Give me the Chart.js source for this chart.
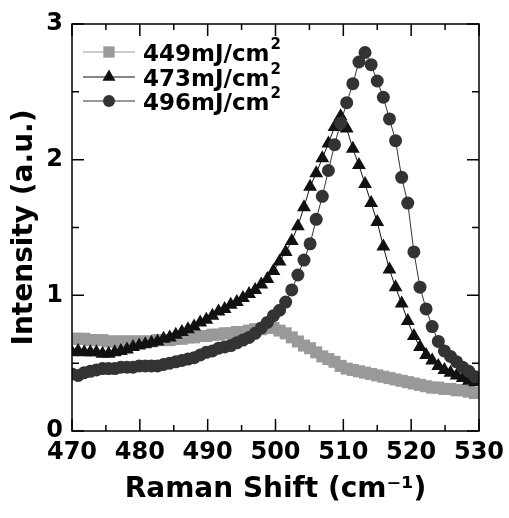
<!DOCTYPE html>
<html>
<head>
<meta charset="utf-8">
<script src="https://cdn.jsdelivr.net/npm/chart.js@4/dist/chart.umd.min.js"></script>
<style>
  body { margin: 0; background: #fff; }
  canvas { display: block; }
</style>
</head>
<body>
<canvas id="ramanChart" width="509" height="518"></canvas>
<script>
// Raman shift (cm-1), shared by the three spectra
const ramanShift = [
  470.0, 470.9, 471.8, 472.7, 473.6, 474.5, 475.4, 476.3, 477.2, 478.1,
  479.0, 479.9, 480.8, 481.7, 482.6, 483.5, 484.4, 485.3, 486.2, 487.1,
  488.0, 488.9, 489.8, 490.7, 491.6, 492.5, 493.4, 494.3, 495.2, 496.1,
  497.0, 497.9, 498.8, 499.7, 500.6, 501.5, 502.4, 503.3, 504.2, 505.1,
  506.0, 506.9, 507.8, 508.7, 509.6, 510.5, 511.4, 512.3, 513.2, 514.1,
  515.0, 515.9, 516.8, 517.7, 518.6, 519.5, 520.4, 521.3, 522.2, 523.1,
  524.0, 524.9, 525.8, 526.7, 527.6, 528.5, 529.4
];

const int449 = [
  0.68, 0.68, 0.68, 0.67, 0.67, 0.67, 0.66, 0.66, 0.66, 0.66,
  0.66, 0.66, 0.66, 0.66, 0.67, 0.67, 0.67, 0.68, 0.68, 0.69,
  0.69, 0.70, 0.70, 0.71, 0.71, 0.72, 0.72, 0.73, 0.73, 0.74,
  0.75, 0.75, 0.76, 0.76, 0.74, 0.72, 0.69, 0.66, 0.63, 0.61,
  0.58, 0.55, 0.53, 0.51, 0.48, 0.46, 0.45, 0.44, 0.43, 0.42,
  0.41, 0.40, 0.39, 0.38, 0.37, 0.36, 0.35, 0.34, 0.33, 0.32,
  0.32, 0.31, 0.31, 0.30, 0.30, 0.29, 0.28
];

const int473 = [
  0.58, 0.59, 0.58, 0.58, 0.58, 0.57, 0.57, 0.58, 0.59, 0.60,
  0.62, 0.63, 0.64, 0.65, 0.66, 0.68, 0.69, 0.71, 0.73, 0.75,
  0.77, 0.80, 0.82, 0.85, 0.88, 0.90, 0.93, 0.95, 0.98, 1.01,
  1.04, 1.08, 1.12, 1.18, 1.25, 1.32, 1.40, 1.51, 1.65, 1.80,
  1.90, 2.01, 2.12, 2.24, 2.32, 2.23, 2.08, 1.96, 1.82, 1.68,
  1.54, 1.36, 1.19, 1.06, 0.94, 0.81, 0.70, 0.62, 0.56, 0.52,
  0.48, 0.45, 0.43, 0.41, 0.39, 0.37, 0.36
];

const int496 = [
  0.42, 0.41, 0.43, 0.44, 0.45, 0.46, 0.46, 0.46, 0.47, 0.47,
  0.47, 0.48, 0.48, 0.48, 0.48, 0.49, 0.50, 0.51, 0.52, 0.53,
  0.54, 0.56, 0.58, 0.59, 0.61, 0.62, 0.63, 0.65, 0.67, 0.69,
  0.72, 0.76, 0.80, 0.85, 0.89, 0.95, 1.04, 1.15, 1.26, 1.38,
  1.56, 1.73, 1.92, 2.11, 2.27, 2.42, 2.56, 2.72, 2.79, 2.70,
  2.58, 2.46, 2.30, 2.14, 1.87, 1.68, 1.32, 1.06, 0.90, 0.77,
  0.66, 0.59, 0.55, 0.51, 0.47, 0.44, 0.40
];

const seriesLabels = ['449mJ/cm', '473mJ/cm', '496mJ/cm'];
const xMajorTicks = [470, 480, 490, 500, 510, 520, 530];
const xMinorTicks = [475, 485, 495, 505, 515, 525];
const yMajorTicks = [0, 1, 2, 3];
const yMinorTicks = [0.5, 1.5, 2.5];

const FONT = 'DejaVu Sans';

function serie(label, vals, color, style, radius, order) {
  return {
    label: label,
    data: ramanShift.map((x, i) => ({ x: x, y: vals[i] })),
    showLine: true,
    borderColor: color,
    borderWidth: 1,
    backgroundColor: color,
    pointBackgroundColor: color,
    pointBorderWidth: 0,
    pointStyle: style,
    pointRadius: radius,
    order: order
  };
}

// marco y ticks hacia adentro en los 4 lados
const marcoTicks = {
  id: 'marcoTicks',
  afterDatasetsDraw(chart) {
    const { ctx, chartArea: a, scales: { x, y } } = chart;
    ctx.save();
    ctx.strokeStyle = '#000';
    ctx.lineWidth = 1.5;
    ctx.beginPath();
    const tickX = (v, len) => {
      const px = x.getPixelForValue(v);
      ctx.moveTo(px, a.bottom); ctx.lineTo(px, a.bottom - len);
      ctx.moveTo(px, a.top); ctx.lineTo(px, a.top + len);
    };
    const tickY = (v, len) => {
      const py = y.getPixelForValue(v);
      ctx.moveTo(a.left, py); ctx.lineTo(a.left + len, py);
      ctx.moveTo(a.right, py); ctx.lineTo(a.right - len, py);
    };
    xMajorTicks.forEach(v => tickX(v, 12));
    xMinorTicks.forEach(v => tickX(v, 6));
    yMajorTicks.forEach(v => tickY(v, 12));
    yMinorTicks.forEach(v => tickY(v, 7));
    ctx.stroke();
    ctx.strokeRect(a.left, a.top, a.right - a.left, a.bottom - a.top);
    ctx.restore();
  }
};

// leyenda con linea + marcador, y superindice
const leyenda = {
  id: 'leyenda',
  afterDraw(chart) {
    const ctx = chart.ctx;
    const rows = [52, 77, 101];
    ctx.save();
    chart.data.datasets.forEach((ds, i) => {
      const yRow = rows[i];
      ctx.strokeStyle = ds.borderColor;
      ctx.lineWidth = 1;
      ctx.beginPath();
      ctx.moveTo(83, yRow);
      ctx.lineTo(135, yRow);
      ctx.stroke();
      ctx.fillStyle = ds.pointBackgroundColor;
      Chart.helpers.drawPoint(ctx, { pointStyle: ds.pointStyle, radius: ds.pointRadius - 0.5, rotation: 0, borderWidth: 0 }, 109, yRow);
      ctx.fillStyle = '#000';
      ctx.textBaseline = 'alphabetic';
      ctx.textAlign = 'left';
      ctx.font = 'bold 23px "' + FONT + '"';
      ctx.fillText(seriesLabels[i], 143, yRow + 9);
      const w = ctx.measureText(seriesLabels[i]).width;
      ctx.font = 'bold 15px "' + FONT + '"';
      ctx.fillText('2', 143 + w + 1, yRow - 3);
    });
    ctx.restore();
  }
};

new Chart(document.getElementById('ramanChart'), {
  type: 'scatter',
  data: {
    datasets: [
      serie(seriesLabels[0], int449, '#999999', 'rect', 8.5, 2),
      serie(seriesLabels[1], int473, '#111111', 'triangle', 8, 1),
      serie(seriesLabels[2], int496, '#333333', 'circle', 6.5, 0)
    ]
  },
  options: {
    responsive: false,
    animation: false,
    devicePixelRatio: 1,
    layout: { padding: { top: 24, right: 30, left: 0, bottom: 0 } },
    plugins: { legend: { display: false }, tooltip: { enabled: false } },
    scales: {
      x: {
        type: 'linear',
        min: 470, max: 530,
        afterBuildTicks: (axis) => { axis.ticks = xMajorTicks.map(v => ({ value: v })); },
        ticks: { padding: 7, color: '#000', font: { family: FONT, weight: 'bold', size: 24 } },
        grid: { display: false, drawTicks: false },
        border: { display: false },
        title: {
          display: true, text: 'Raman Shift (cm\u207B\u00B9)', color: '#000',
          font: { family: FONT, weight: 'bold', size: 28 },
          padding: { top: 0, bottom: 11 }
        },
        afterFit(s) { s.height = 87; s.paddingLeft = 0; s.paddingRight = 0; }
      },
      y: {
        type: 'linear',
        min: 0, max: 3,
        afterBuildTicks: (axis) => { axis.ticks = yMajorTicks.map(v => ({ value: v })); },
        ticks: { padding: 9, color: '#000', font: { family: FONT, weight: 'bold', size: 24 } },
        grid: { display: false, drawTicks: false },
        border: { display: false },
        title: {
          display: true, text: 'Intensity (a.u.)', color: '#000',
          font: { family: FONT, weight: 'bold', size: 28 },
          padding: { top: 8, bottom: 0 }
        },
        afterFit(s) { s.width = 72; s.paddingTop = 0; s.paddingBottom = 0; }
      }
    }
  },
  plugins: [marcoTicks, leyenda]
});
</script>
</body>
</html>
